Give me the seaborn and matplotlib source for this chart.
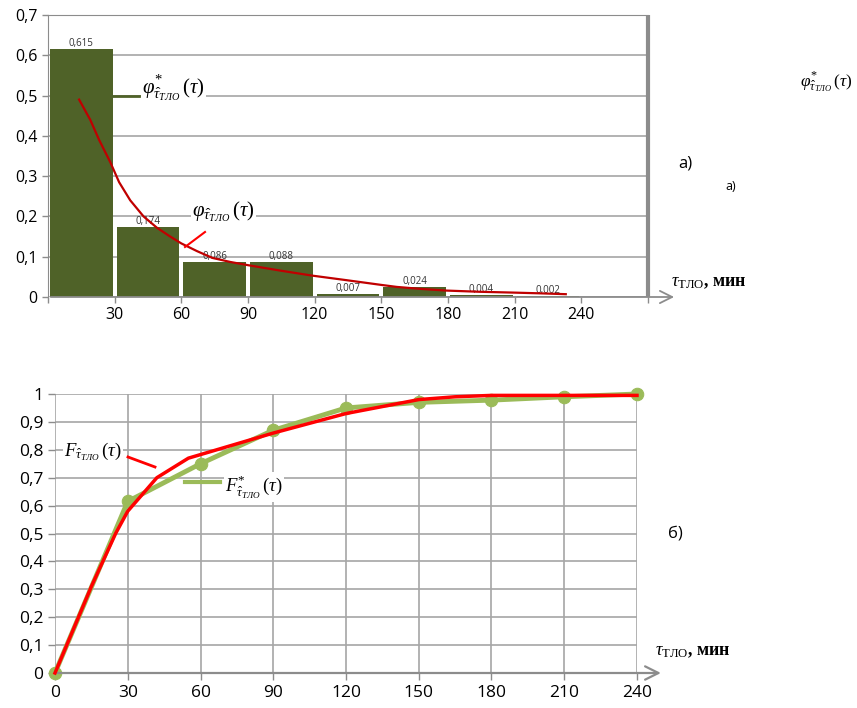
import matplotlib
matplotlib.use("Agg")
import matplotlib.pyplot as plt
from matplotlib.lines import Line2D
import seaborn as sns

# =============================
# DATOS
# =============================

# a) histograma de frecuencias relativas
bin_edges = [0, 30, 60, 90, 120, 150, 180, 210, 240]
bin_centers = [15, 45, 75, 105, 135, 165, 195, 225]
freqs = [0.615, 0.174, 0.086, 0.088, 0.007, 0.024, 0.004, 0.002]
freq_labels = ["0,615", "0,174", "0,086", "0,088", "0,007", "0,024", "0,004", "0,002"]

# a) densidad teórica (leída del gráfico)
dens_x = [14, 19, 23, 28, 32, 37, 43, 49, 55, 60, 67, 74, 82, 90, 104, 119,
          134, 150, 157, 168, 179, 194, 209, 222, 233]
dens_y = [0.49, 0.44, 0.39, 0.335, 0.285, 0.24, 0.20, 0.172, 0.15, 0.133, 0.114,
          0.097, 0.087, 0.079, 0.066, 0.053, 0.042, 0.03, 0.025, 0.02, 0.016,
          0.013, 0.011, 0.009, 0.007]

# б) función de distribución empírica
emp_x = [0, 30, 60, 90, 120, 150, 180, 210, 240]
emp_F = [0.0, 0.615, 0.75, 0.87, 0.95, 0.97, 0.978, 0.99, 1.0]

# б) función de distribución teórica
teo_x = [0, 15, 25, 30, 42, 55, 90, 120, 150, 165, 180, 240]
teo_F = [0.0, 0.31, 0.50, 0.58, 0.70, 0.77, 0.86, 0.93, 0.98, 0.99, 0.995, 0.995]

top_yticks = [0, 0.1, 0.2, 0.3, 0.4, 0.5, 0.6, 0.7]
top_ylabels = ["0", "0,1", "0,2", "0,3", "0,4", "0,5", "0,6", "0,7"]
top_xticks = [0, 30, 60, 90, 120, 150, 180, 210, 240, 270]
top_xlabels = ["", "30", "60", "90", "120", "150", "180", "210", "240", ""]
bot_yticks = [0, 0.1, 0.2, 0.3, 0.4, 0.5, 0.6, 0.7, 0.8, 0.9, 1.0]
bot_ylabels = ["0", "0,1", "0,2", "0,3", "0,4", "0,5", "0,6", "0,7", "0,8", "0,9", "1"]
bot_xticks = [0, 30, 60, 90, 120, 150, 180, 210, 240]

# =============================
# ESTILO
# =============================
plt.rcParams["font.family"] = ["Open Sans", "DejaVu Sans"]
plt.rcParams["mathtext.fontset"] = "custom"
plt.rcParams["mathtext.rm"] = "Liberation Serif"
plt.rcParams["mathtext.it"] = "Liberation Serif:italic"
plt.rcParams["mathtext.bf"] = "Liberation Serif:bold"

W, H = 857, 708
GRID = "#A6A6A6"
AXIS = "#8C8C8C"
BAR = "#4F6228"
GREEN = "#9BBB59"


def fp(x, y):
    """Pixel -> fracción de figura."""
    return x / W, 1 - y / H


fig = plt.figure(figsize=(W / 100, H / 100), dpi=100)

# =============================
# a) HISTOGRAMA
# =============================
ax1 = fig.add_axes([48 / W, 1 - 297 / H, 600 / W, 282 / H])
sns.histplot(x=bin_centers, weights=freqs, bins=bin_edges, shrink=0.94,
             color=BAR, alpha=1, edgecolor="none", ax=ax1, zorder=2)
ax1.bar_label(ax1.containers[0], labels=freq_labels, fontsize=7, padding=0,
              color="#333333")
sns.lineplot(x=dens_x, y=dens_y, color="#C00000", lw=1.6, ax=ax1, zorder=3)

ax1.set_xlim(0, 270)
ax1.set_ylim(0, 0.7)
ax1.set_yticks(top_yticks)
ax1.set_yticklabels(top_ylabels)
ax1.set_xticks(top_xticks)
ax1.set_xticklabels(top_xlabels)
ax1.yaxis.grid(True, color=GRID, lw=1.2, zorder=0)
ax1.set_axisbelow(True)
ax1.tick_params(axis="both", labelsize=11.5, colors=AXIS, labelcolor="black",
                length=4, width=1)
ax1.set_xlabel("")
ax1.set_ylabel("")
for side in ["left", "top"]:
    ax1.spines[side].set_color(AXIS)
ax1.spines["right"].set_color(AXIS)
ax1.spines["right"].set_linewidth(3)
ax1.spines["right"].set_capstyle("butt")
ax1.spines["bottom"].set_visible(False)
ax1.annotate("", xy=(283, 0), xytext=(0, 0), annotation_clip=False,
             arrowprops=dict(arrowstyle="->", color=AXIS, lw=1.3, mutation_scale=22))

# =============================
# б) FUNCIÓN DE DISTRIBUCIÓN
# =============================
ax2 = fig.add_axes([55 / W, 1 - 673 / H, 582 / W, 279 / H])
sns.lineplot(x=emp_x, y=emp_F, color=GREEN, lw=3.5, marker="o", markersize=9,
             markeredgecolor=GREEN, ax=ax2, zorder=3, clip_on=False)
sns.lineplot(x=teo_x, y=teo_F, color="#FF0000", lw=2.5, ax=ax2, zorder=4,
             clip_on=False)

ax2.set_xlim(0, 240)
ax2.set_ylim(0, 1)
ax2.set_yticks(bot_yticks)
ax2.set_yticklabels(bot_ylabels)
ax2.set_xticks(bot_xticks)
ax2.grid(True, color=GRID, lw=1.2, zorder=0)
ax2.set_axisbelow(True)
ax2.tick_params(axis="both", labelsize=12.5, colors=AXIS, labelcolor="black",
                length=5, width=1)
ax2.set_xlabel("")
ax2.set_ylabel("")
for side in ["left", "top", "right", "bottom"]:
    ax2.spines[side].set_visible(False)
ax2.annotate("", xy=(251, 0), xytext=(0, 0), annotation_clip=False,
             arrowprops=dict(arrowstyle="->", color=AXIS, lw=1.6, mutation_scale=24))

# =============================
# TEXTOS Y ETIQUETAS
# =============================
box = dict(facecolor="white", edgecolor="none", pad=1)
sub = r"_{\hat{\tau}_{\mathit{ТЛО}}}"

fig.add_artist(Line2D([113 / W, 139 / W], [1 - 96 / H, 1 - 96 / H], color=BAR, lw=2))
fig.text(*fp(142, 88), r"$\varphi^{*}" + sub + r"\,(\tau)$", fontsize=15,
         va="center", ha="left", bbox=box)
fig.text(*fp(192, 212), r"$\varphi" + sub + r"\,(\tau)$", fontsize=15,
         va="center", ha="left", bbox=box)
fig.add_artist(Line2D([205 / W, 185 / W], [1 - 232 / H, 1 - 247 / H],
                      color="#FF0000", lw=1.5))

fig.text(*fp(685, 163), "а)", fontsize=12, ha="center", va="center")
fig.text(*fp(731, 187), "а)", fontsize=9, ha="center", va="center")
fig.text(*fp(800, 82), r"$\varphi^{*}" + sub + r"\,(\tau)$", fontsize=12.5,
         va="center", ha="left")
fig.text(*fp(671, 282), r"$\tau_{\mathrm{ТЛО}}$, мин", fontsize=13,
         family="Liberation Serif", weight="bold", va="center", ha="left")

fig.text(*fp(64, 452), r"$F" + sub + r"\,(\tau)$", fontsize=13.5,
         va="center", ha="left", bbox=box)
fig.add_artist(Line2D([128 / W, 155 / W], [1 - 457 / H, 1 - 467 / H],
                      color="#FF0000", lw=2))
fig.add_artist(Line2D([185 / W, 220 / W], [1 - 482 / H, 1 - 482 / H],
                      color=GREEN, lw=3))
fig.text(*fp(225, 487), r"$F^{*}" + sub + r"\,(\tau)$", fontsize=13.5,
         va="center", ha="left", bbox=box)

fig.text(*fp(675, 533), "б)", fontsize=12, ha="center", va="center")
fig.text(*fp(655, 652), r"$\tau_{\mathrm{ТЛО}}$, мин", fontsize=13,
         family="Liberation Serif", weight="bold", va="center", ha="left")

fig.savefig("out.png", dpi=100, facecolor="white")
